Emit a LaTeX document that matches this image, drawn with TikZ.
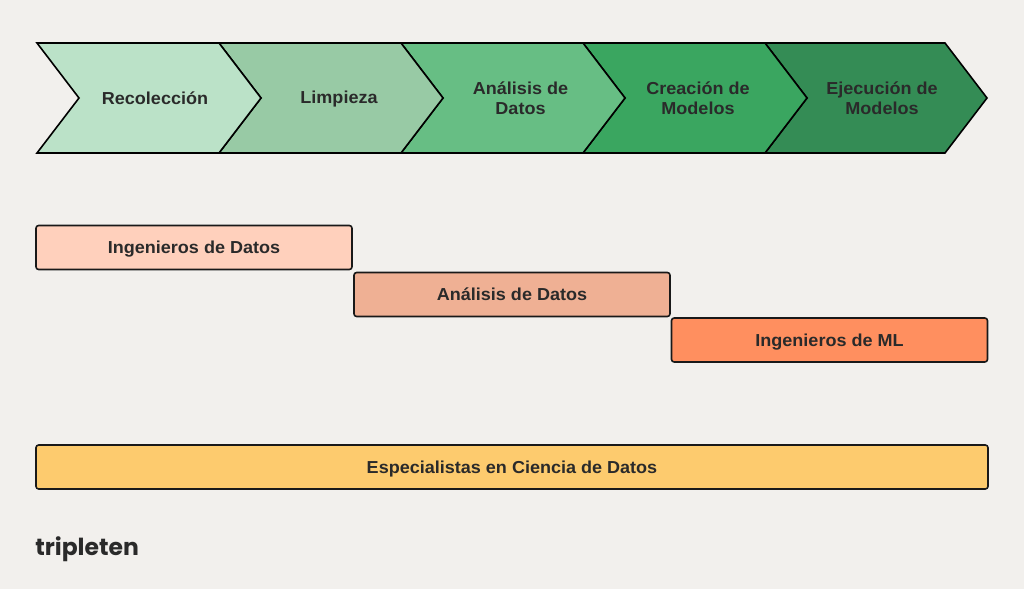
\documentclass[tikz,border=0pt]{standalone}
\usepackage{fontspec}
\setmainfont{Liberation Sans}[FakeStretch=1.04]
\newfontfamily\logofont{Poppins}[BoldFont={* Bold}]
\definecolor{paper}{HTML}{F2F0ED}
\definecolor{ink}{HTML}{2A2A2A}
\definecolor{stage1}{HTML}{BBE2C8}
\definecolor{stage2}{HTML}{98CAA5}
\definecolor{stage3}{HTML}{67BE84}
\definecolor{stage4}{HTML}{3AA660}
\definecolor{stage5}{HTML}{348C55}
\definecolor{role1}{HTML}{FFD0BC}
\definecolor{role2}{HTML}{EFB094}
\definecolor{role3}{HTML}{FF8F5F}
\definecolor{role4}{HTML}{FDCB6E}
\tikzset{
  chevron/.style={draw=black, line width=1.2pt, line join=miter},
  stagelabel/.style={align=center, text=ink, font=\bfseries\fontsize{13}{15}\selectfont, inner sep=0pt},
  rolebox/.style={draw=black!90, line width=1.2pt, rounded corners=2pt, minimum height=33pt,
    inner sep=0pt, outer sep=0pt, text=ink, text height=9.3pt, text depth=0pt,
    font=\bfseries\fontsize{13}{15}\selectfont},
}
\begin{document}
\begin{tikzpicture}[x=0.75pt, y=-0.75pt]
\useasboundingbox[fill=paper] (0, 0) rectangle (1024, 589);
% stages, last one first so that each tip lies on the next one
\foreach \back/\shoulder/\col in {765/945/stage5, 583/765/stage4, 401/583/stage3, 219/401/stage2, 37/219/stage1}
  \draw[chevron, fill=\col] (\back, 43) -- (\shoulder, 43) -- ({\shoulder+42}, 98)
    -- (\shoulder, 153) -- (\back, 153) -- ({\back+42}, 98) -- cycle;
\node[stagelabel] (recoleccion) at (155, 98) {Recolección};
\node[stagelabel] (limpieza) at (339, 99.5) {Limpieza};
\node[stagelabel] (analisis) at (520.5, 98) {Análisis de\\Datos};
\node[stagelabel] (creacion) at (698, 98) {Creación de\\Modelos};
\node[stagelabel] (ejecucion) at (882, 98) {Ejecución de\\Modelos};
% roles
\node[rolebox, fill=role1, minimum width=237pt] (ingdatos) at (194, 247.5) {Ingenieros de Datos};
\node[rolebox, fill=role2, minimum width=237pt] (analistas) at (512, 294.5) {Análisis de Datos};
\node[rolebox, fill=role3, minimum width=237pt] (ingml) at (829.5, 340) {Ingenieros de ML};
\node[rolebox, fill=role4, minimum width=714pt] (especialistas) at (512, 467) {Especialistas en Ciencia de Datos};
\node[anchor=west, inner sep=0pt, text=ink, font=\logofont\bfseries\fontsize{17.6}{20}\selectfont] (logo) at (35, 549) {tripleten};
\end{tikzpicture}
\end{document}
